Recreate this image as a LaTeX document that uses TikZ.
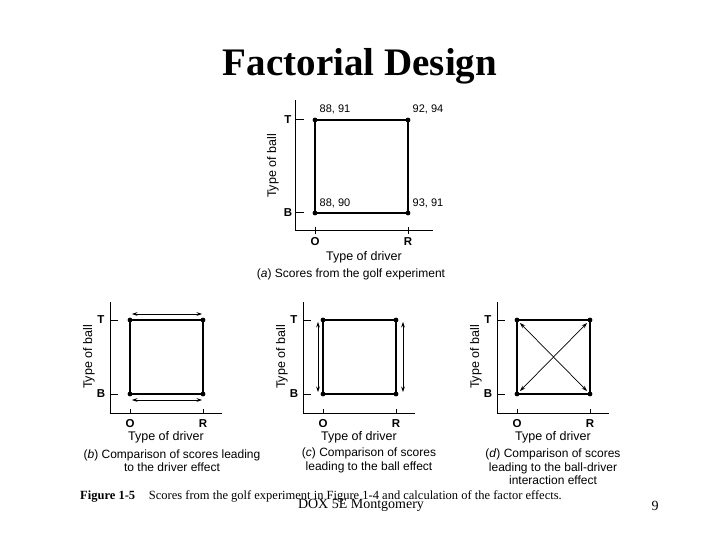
\documentclass[tikz,border=0pt]{standalone}
\usepackage{fontspec}
\setmainfont{Liberation Serif}
\newfontfamily\hv{Liberation Sans}
\usetikzlibrary{arrows.meta}
\tikzset{
  sq/.style={line width=2.4pt, line join=miter},
  axl/.style={line width=1pt},
  tk/.style={line width=1pt},
  dot/.style={circle, fill=black, inner sep=0pt, minimum size=4.8pt},
  lab/.style={font=\hv\bfseries\fontsize{11.5}{12}\selectfont, inner sep=0pt},
  val/.style={font=\hv\fontsize{11}{12}\selectfont, inner sep=0pt},
  axname/.style={font=\hv\fontsize{12.5}{13}\selectfont, inner sep=0pt},
  capt/.style={font=\hv\fontsize{12}{13.5}\selectfont, align=center, inner sep=0pt},
  dbl/.style={line width=0.7pt, {Stealth[length=5.5pt,width=3.8pt]}-{Stealth[length=5.5pt,width=3.8pt]}},
}
\newcommand\smallpanel[2]{%
  \begin{scope}[shift={(#2,0)}]
    \coordinate (#1top) at (0,302);
    \coordinate (#1orig) at (0,413);
    \coordinate (#1end) at (112,413);
    \draw[axl] (#1top) -- (#1orig) -- (#1end);
    \node[dot] (#1TL) at (20,320) {};
    \node[dot] (#1TR) at (93,320) {};
    \node[dot] (#1BR) at (93,394) {};
    \node[dot] (#1BL) at (20,394) {};
    \draw[sq] (#1TL.center) -- (#1TR.center) -- (#1BR.center) -- (#1BL.center) -- cycle;
    \coordinate (#1tT) at (8,320);
    \coordinate (#1tB) at (8,394);
    \coordinate (#1tO) at (20,409);
    \coordinate (#1tR) at (93,409);
    \draw[tk] (#1top |- #1tT) -- (#1tT);
    \draw[tk] (#1top |- #1tB) -- (#1tB);
    \draw[tk] (#1tO) -- (#1tO |- #1orig);
    \draw[tk] (#1tR) -- (#1tR |- #1orig);
    \node[lab] (#1T) at (-9,320) {T};
    \node[lab] (#1B) at (-9,394) {B};
    \node[lab] (#1O) at (20,424) {O};
    \node[lab] (#1R) at (93,424) {R};
    \node[axname, rotate=90] (#1ball) at (-21,357) {Type of ball};
    \node[axname] (#1driver) at (56,437) {Type of driver};
  \end{scope}}
\begin{document}
\begin{tikzpicture}[x=1pt, y=-1pt]
\useasboundingbox (0,0) rectangle (720,540);
% title
\node[font=\bfseries\fontsize{39}{44}\selectfont, anchor=base, inner sep=0pt] (title) at (360,76) {Factorial Design};

% ---------- panel (a)
\coordinate (atop) at (295,100);
\coordinate (aorig) at (295,231);
\coordinate (aend) at (433,231);
\draw[axl] (atop) -- (aorig) -- (aend);
\node[dot] (aTL) at (315,120) {};
\node[dot] (aTR) at (408,120) {};
\node[dot] (aBR) at (408,213) {};
\node[dot] (aBL) at (315,213) {};
\draw[sq] (aTL.center) -- (aTR.center) -- (aBR.center) -- (aBL.center) -- cycle;
\coordinate (atT) at (304,120);
\coordinate (atB) at (304,213);
\coordinate (atO) at (315,227);
\coordinate (atR) at (408,227);
\draw[tk] (atop |- atT) -- (atT);
\draw[tk] (atop |- atB) -- (atB);
\draw[tk] (atO) -- ([yshift=-3pt]atO |- aorig);
\draw[tk] (atR) -- ([yshift=-3pt]atR |- aorig);
\node[lab] (aT) at (288,120) {T};
\node[lab] (aB) at (288,213) {B};
\node[lab] (aO) at (315,242) {O};
\node[lab] (aR) at (408,242) {R};
\node[val] (v1) at (335,109) {88, 91};
\node[val] (v2) at (428,109) {92, 94};
\node[val] (v3) at (335,203) {88, 90};
\node[val] (v4) at (428,203) {93, 91};
\node[axname, rotate=90] (aball) at (273,166) {Type of ball};
\node[axname] (adriver) at (364,257) {Type of driver};
\node[capt] (acap) at (351,274) {(\textit{a}) Scores from the golf experiment};

% ---------- panel (b)
\smallpanel{b}{110}
\coordinate (bl1) at (132,314);
\coordinate (br1) at (202,314);
\coordinate (bl2) at (132,400);
\coordinate (br2) at (202,400);
\draw[dbl] (bl1) -- (br1);
\draw[dbl] (bl2) -- (br2);
\node[capt] (bcap) at (172,460.5) {(\textit{b}) Comparison of scores leading\\to the driver effect};

% ---------- panel (c)
\smallpanel{c}{303}
\coordinate (cu1) at (318,322);
\coordinate (cd1) at (318,392);
\coordinate (cu2) at (403,322);
\coordinate (cd2) at (403,392);
\draw[dbl] (cu1) -- (cd1);
\draw[dbl] (cu2) -- (cd2);
\node[capt] (ccap) at (369,460.5) {(\textit{c}) Comparison of scores\\leading to the ball effect};

% ---------- panel (d)
\smallpanel{d}{497}
\draw[dbl] ([shift={(3pt,-3pt)}]dTL.center) -- ([shift={(-3pt,3pt)}]dBR.center);
\draw[dbl] ([shift={(-3pt,-3pt)}]dTR.center) -- ([shift={(3pt,3pt)}]dBL.center);
\node[capt] (dcap) at (553,467) {(\textit{d}) Comparison of scores\\leading to the ball-driver\\interaction effect};

% ---------- footer
\node[font=\fontsize{12.5}{14}\selectfont, anchor=base west, inner sep=0pt] (fig) at (80,499) {\textbf{Figure 1-5}\hspace{1.1em}Scores from the golf experiment in Figure 1-4 and calculation of the factor effects.};
\node[font=\fontsize{14}{16}\selectfont, anchor=base, inner sep=0pt] (dox) at (361,508) {DOX 5E Montgomery};
\node[font=\fontsize{14}{16}\selectfont, anchor=base, inner sep=0pt] (pg) at (655,510) {9};
\end{tikzpicture}
\end{document}
